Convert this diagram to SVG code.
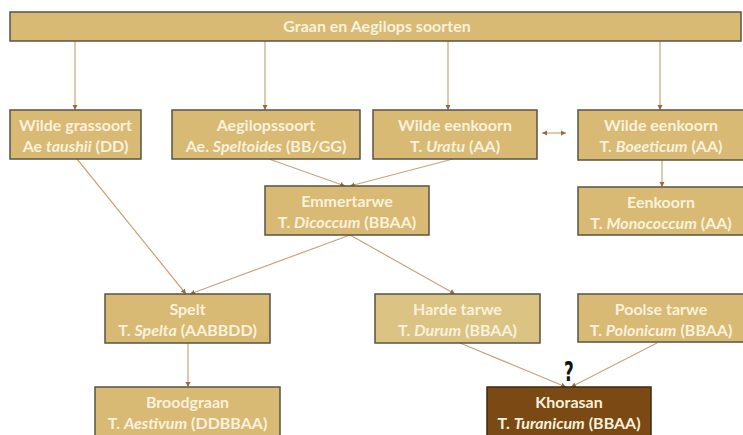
<svg xmlns="http://www.w3.org/2000/svg" width="743" height="435" viewBox="0 0 743 435">
<style>
.box{fill:#D8BA75;stroke:#5A5346;stroke-width:1.5}
.light{fill:#DBC384}
.dark{fill:#7B4A14;stroke:#3E2A12}
.t{font-family:Lato,"Open Sans","Liberation Sans",sans-serif;font-weight:bold;font-size:16px;fill:#FAF1DC;text-anchor:middle}
.c line{stroke:#C9A47E;stroke-width:1.2;fill:none}
.q{font-family:"DejaVu Sans Condensed","DejaVu Sans",sans-serif;font-stretch:condensed;font-weight:bold;font-size:26px;fill:#111;text-anchor:middle}
</style>
<defs>
<marker id="ah" markerWidth="6" markerHeight="6" refX="5" refY="3" orient="auto" markerUnits="userSpaceOnUse">
<path d="M0,0.5 L5,3 L0,5.5 z" fill="#9A6A3C"/>
</marker>
<marker id="as" markerWidth="6" markerHeight="6" refX="0" refY="3" orient="auto" markerUnits="userSpaceOnUse">
<path d="M5,0.5 L0,3 L5,5.5 z" fill="#9A6A3C"/>
</marker>
</defs>
<rect width="743" height="435" fill="#ffffff"/>
<g class="c" id="connectors">
<line x1="75" y1="41" x2="75" y2="110" marker-end="url(#ah)"/>
<line x1="265" y1="41" x2="265" y2="110" marker-end="url(#ah)"/>
<line x1="448" y1="41" x2="448" y2="110" marker-end="url(#ah)"/>
<line x1="660" y1="41" x2="660" y2="110" marker-end="url(#ah)"/>
<line x1="77" y1="159" x2="186" y2="294" marker-end="url(#ah)"/>
<line x1="269" y1="159" x2="345" y2="186" marker-end="url(#ah)"/>
<line x1="453" y1="159" x2="350" y2="186" marker-end="url(#ah)"/>
<line x1="542" y1="133" x2="566" y2="133" marker-start="url(#as)" marker-end="url(#ah)"/>
<line x1="662" y1="160" x2="662" y2="187" marker-end="url(#ah)"/>
<line x1="350" y1="235" x2="190" y2="294" marker-end="url(#ah)"/>
<line x1="350" y1="235" x2="455" y2="294" marker-end="url(#ah)"/>
<line x1="188" y1="343" x2="188" y2="387" marker-end="url(#ah)"/>
<line x1="460" y1="343" x2="566" y2="387" marker-end="url(#ah)"/>
<line x1="657" y1="343" x2="571" y2="387" marker-end="url(#ah)"/>
</g>
<g id="top">
<rect class="box" x="10" y="12" width="731" height="29"/>
<text class="t" x="377" y="32">Graan en Aegilops soorten</text>
</g>
<g id="grassoort">
<rect class="box" x="10" y="110" width="131" height="49"/>
<text class="t" x="75.5" y="131">Wilde grassoort</text>
<text class="t" x="75.5" y="152">Ae <tspan font-style="italic">taushii</tspan> (DD)</text>
</g>
<g id="aegilopssoort">
<rect class="box" x="172" y="110" width="188" height="49"/>
<text class="t" x="266" y="131">Aegilopssoort</text>
<text class="t" x="266" y="152">Ae. <tspan font-style="italic">Speltoides</tspan> (BB/GG)</text>
</g>
<g id="uratu">
<rect class="box" x="373" y="110" width="164" height="49"/>
<text class="t" x="455" y="131">Wilde eenkoorn</text>
<text class="t" x="455" y="152">T. <tspan font-style="italic">Uratu</tspan> (AA)</text>
</g>
<g id="boeeticum">
<rect class="box" x="578" y="110" width="167" height="50"/>
<text class="t" x="661" y="131">Wilde eenkoorn</text>
<text class="t" x="661" y="152">T. <tspan font-style="italic">Boeeticum</tspan> (AA)</text>
</g>
<g id="emmertarwe">
<rect class="box" x="265" y="186" width="164" height="49"/>
<text class="t" x="347" y="207">Emmertarwe</text>
<text class="t" x="347" y="228">T. <tspan font-style="italic">Dicoccum</tspan> (BBAA)</text>
</g>
<g id="eenkoorn">
<rect class="box" x="578" y="187" width="167" height="48"/>
<text class="t" x="661" y="208">Eenkoorn</text>
<text class="t" x="661" y="229">T. <tspan font-style="italic">Monococcum</tspan> (AA)</text>
</g>
<g id="spelt">
<rect class="box" x="105" y="294" width="165" height="49"/>
<text class="t" x="187.5" y="315">Spelt</text>
<text class="t" x="187.5" y="336">T. <tspan font-style="italic">Spelta</tspan> (AABBDD)</text>
</g>
<g id="harde">
<rect class="box light" x="375" y="294" width="165" height="49"/>
<text class="t" x="457.5" y="315">Harde tarwe</text>
<text class="t" x="457.5" y="336">T. <tspan font-style="italic">Durum</tspan> (BBAA)</text>
</g>
<g id="poolse">
<rect class="box" x="578" y="294" width="167" height="48"/>
<text class="t" x="661" y="315">Poolse tarwe</text>
<text class="t" x="661" y="336">T. <tspan font-style="italic">Polonicum</tspan> (BBAA)</text>
</g>
<g id="broodgraan">
<rect class="box" x="95" y="387" width="185" height="60"/>
<text class="t" x="187.5" y="408">Broodgraan</text>
<text class="t" x="187.5" y="429">T. <tspan font-style="italic">Aestivum</tspan> (DDBBAA)</text>
</g>
<g id="khorasan">
<rect class="box dark" x="487" y="387" width="164" height="60"/>
<text class="t" x="569" y="408">Khorasan</text>
<text class="t" x="569" y="429">T. <tspan font-style="italic">Turanicum</tspan> (BBAA)</text>
</g>
<text class="q" transform="translate(569,381) scale(0.72,1)" x="0" y="0">?</text>
</svg>
